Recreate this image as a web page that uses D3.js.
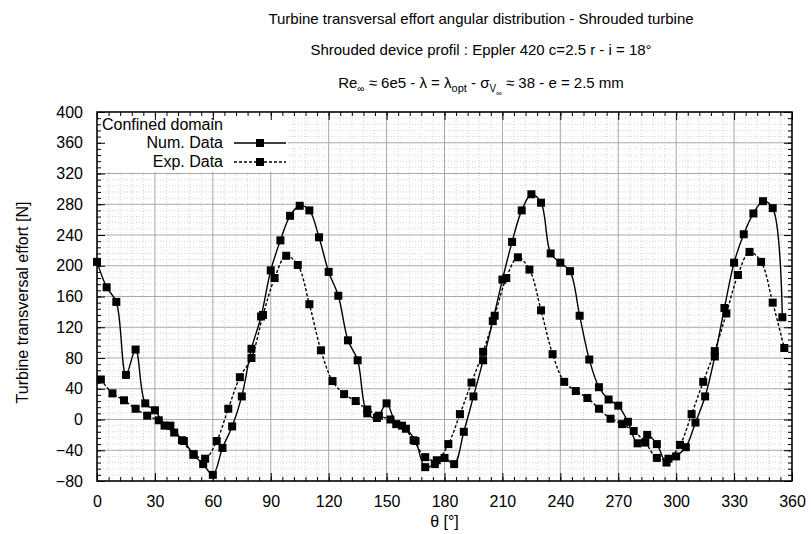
<!DOCTYPE html>
<html>
<head>
<meta charset="utf-8">
<script src="https://cdn.jsdelivr.net/npm/d3@7/dist/d3.min.js"></script>
<style>
  html, body { margin: 0; padding: 0; background: #fff; }
  svg { display: block; font-family: "Liberation Sans", Arial, Helvetica, sans-serif; }
</style>
</head>
<body>
<svg id="chart" width="811" height="534"></svg>
<script>
// ---- Data ----
const titleLine1 = "Turbine transversal effort angular distribution - Shrouded turbine";
const titleLine2 = "Shrouded device profil : Eppler 420 c=2.5 r - i = 18°";
const xLabel = "θ [°]";
const yLabel = "Turbine transversal effort [N]";
const legendTitle = "Confined domain";
const seriesNames = ["Num. Data", "Exp. Data"];

const xTicks = [0, 30, 60, 90, 120, 150, 180, 210, 240, 270, 300, 330, 360];
const yTicks = [-80, -40, 0, 40, 80, 120, 160, 200, 240, 280, 320, 360, 400];

const numTheta = [0,5,10,15,20,25,30,35,40,45,50,55,60,65,70,75,80,85,90,95,100,105,110,115,120,125,130,135,140,145,150,155,160,165,170,175,180,185,190,195,200,205,210,215,220,225,230,235,240,245,250,255,260,265,270,275,280,285,290,295,300,305,310,315,320,325,330,335,340,345,350,355];
const numValues = [205,172,153,58,91,21,12,-8,-17,-28,-46,-58,-72,-37,-9,30,92,134,194,233,265,278,272,237,192,161,103,77,8,2,21,-6,-12,-28,-62,-58,-50,-58,-16,30,77,128,182,231,272,293,282,216,204,193,135,78,42,26,18,-3,-31,-20,-32,-56,-48,-36,-4,30,82,145,204,241,268,284,275,133];

const expTheta = [2,8,14,20,26,32,38,44,50,56,62,68,74,80,86,92,98,104,110,116,122,128,134,140,146,152,158,164,170,176,182,188,194,200,206,212,218,224,230,236,242,248,254,260,266,272,278,284,290,296,302,308,314,320,326,332,338,344,350,356];
const expValues = [52,34,25,14,5,-1,-8,-27,-45,-51,-28,14,55,80,136,184,213,201,150,90,50,33,24,13,5,0,-8,-27,-49,-53,-32,7,48,88,135,184,211,195,142,85,49,37,28,14,1,-6,-15,-30,-50,-51,-33,7,49,89,138,188,218,205,152,93];

// ---- Layout ----
const W = 811, H = 534;
const m = { left: 97, right: 19, top: 112, bottom: 53 };
const pw = W - m.left - m.right, ph = H - m.top - m.bottom;

const svg = d3.select("#chart");
const x = d3.scaleLinear().domain([0, 360]).range([m.left, m.left + pw]);
const y = d3.scaleLinear().domain([-80, 400]).range([m.top + ph, m.top]);

const xMinor = d3.range(0, 361, 6);
const yMinor = d3.range(-80, 401, 8);

const g = svg.append("g");

// minor grid (dotted)
g.append("g").selectAll("line").data(xMinor.filter(v => v % 30 !== 0)).join("line")
  .attr("x1", d => x(d)).attr("x2", d => x(d)).attr("y1", m.top).attr("y2", m.top + ph)
  .attr("stroke", "#d4d4d4").attr("stroke-width", 1).attr("stroke-dasharray", "1,2");
g.append("g").selectAll("line").data(yMinor.filter(v => v % 40 !== 0)).join("line")
  .attr("y1", d => y(d)).attr("y2", d => y(d)).attr("x1", m.left).attr("x2", m.left + pw)
  .attr("stroke", "#d4d4d4").attr("stroke-width", 1).attr("stroke-dasharray", "1,2");
// major grid
g.append("g").selectAll("line").data(xTicks).join("line")
  .attr("x1", d => x(d)).attr("x2", d => x(d)).attr("y1", m.top).attr("y2", m.top + ph)
  .attr("stroke", "#a8a8a8").attr("stroke-width", 1);
g.append("g").selectAll("line").data(yTicks).join("line")
  .attr("y1", d => y(d)).attr("y2", d => y(d)).attr("x1", m.left).attr("x2", m.left + pw)
  .attr("stroke", "#a8a8a8").attr("stroke-width", 1);

// legend background box (covers grid)
g.append("rect").attr("x", m.left).attr("y", m.top).attr("width", 191).attr("height", 60).attr("fill", "#fff");

// axes: major labelled + minor ticks, mirrored
function styleAxis(sel) {
  sel.select(".domain").remove();
  sel.selectAll(".tick line").attr("stroke", "#000").attr("stroke-width", 1);
  sel.selectAll(".tick text").attr("fill", "#000").style("font-size", "16px").style("font-family", "'Liberation Sans', Arial, sans-serif");
}
const bottom = g.append("g").attr("transform", `translate(0,${m.top + ph})`)
  .call(d3.axisBottom(x).tickValues(xTicks).tickSize(-8).tickPadding(15).tickFormat(d3.format("d")));
styleAxis(bottom);
g.append("g").attr("transform", `translate(0,${m.top + ph})`)
  .call(d3.axisBottom(x).tickValues(xMinor).tickSize(-4).tickFormat(""))
  .call(styleAxis);
g.append("g").attr("transform", `translate(0,${m.top})`)
  .call(d3.axisTop(x).tickValues(xTicks).tickSize(-8).tickFormat("")).call(styleAxis);
g.append("g").attr("transform", `translate(0,${m.top})`)
  .call(d3.axisTop(x).tickValues(xMinor).tickSize(-4).tickFormat("")).call(styleAxis);

const left = g.append("g").attr("transform", `translate(${m.left},0)`)
  .call(d3.axisLeft(y).tickValues(yTicks).tickSize(-8).tickPadding(14).tickFormat(d3.format("d")));
styleAxis(left);
g.append("g").attr("transform", `translate(${m.left},0)`)
  .call(d3.axisLeft(y).tickValues(yMinor).tickSize(-4).tickFormat("")).call(styleAxis);
g.append("g").attr("transform", `translate(${m.left + pw},0)`)
  .call(d3.axisRight(y).tickValues(yTicks).tickSize(-8).tickFormat("")).call(styleAxis);
g.append("g").attr("transform", `translate(${m.left + pw},0)`)
  .call(d3.axisRight(y).tickValues(yMinor).tickSize(-4).tickFormat("")).call(styleAxis);

// frame
g.append("rect").attr("x", m.left).attr("y", m.top).attr("width", pw).attr("height", ph)
  .attr("fill", "none").attr("stroke", "#000").attr("stroke-width", 1.5);

// series
const numData = numTheta.map((t, i) => ({ t, v: numValues[i] }));
const expData = expTheta.map((t, i) => ({ t, v: expValues[i] }));
const line = d3.line().x(d => x(d.t)).y(d => y(d.v)).curve(d3.curveCatmullRom.alpha(0.5));

g.append("path").datum(numData).attr("d", line).attr("fill", "none")
  .attr("stroke", "#000").attr("stroke-width", 1.4);
g.append("path").datum(expData).attr("d", line).attr("fill", "none")
  .attr("stroke", "#000").attr("stroke-width", 1.4).attr("stroke-dasharray", "3,2");

const ms = 8;
g.append("g").selectAll("rect").data(numData).join("rect")
  .attr("x", d => x(d.t) - ms / 2).attr("y", d => y(d.v) - ms / 2)
  .attr("width", ms).attr("height", ms).attr("fill", "#000");
g.append("g").selectAll("rect").data(expData).join("rect")
  .attr("x", d => x(d.t) - ms / 2).attr("y", d => y(d.v) - ms / 2)
  .attr("width", ms).attr("height", ms).attr("fill", "#000");

// legend
const lg = g.append("g").style("font-size", "16px").attr("fill", "#000");
lg.append("text").attr("x", 102).attr("y", 130).text(legendTitle);
const legRows = [{ name: seriesNames[0], dash: null, yy: 143 }, { name: seriesNames[1], dash: "3,2", yy: 162 }];
legRows.forEach(r => {
  lg.append("text").attr("x", 223).attr("y", r.yy + 5).attr("text-anchor", "end").text(r.name);
  lg.append("line").attr("x1", 234).attr("x2", 286).attr("y1", r.yy).attr("y2", r.yy)
    .attr("stroke", "#000").attr("stroke-width", 1.4).attr("stroke-dasharray", r.dash);
  lg.append("rect").attr("x", 260 - ms / 2).attr("y", r.yy - ms / 2).attr("width", ms).attr("height", ms).attr("fill", "#000");
});

// titles
const tcx = 481;
svg.append("text").attr("x", tcx).attr("y", 24).attr("text-anchor", "middle").style("font-size", "15px").text(titleLine1);
svg.append("text").attr("x", tcx).attr("y", 55).attr("text-anchor", "middle").style("font-size", "15px").text(titleLine2);
const t3 = svg.append("text").attr("x", tcx).attr("y", 88).attr("text-anchor", "middle").style("font-size", "15px");
t3.append("tspan").text("Re");
t3.append("tspan").attr("dy", 4).style("font-size", "10px").text("∞");
t3.append("tspan").attr("dy", -4).text(" ≈ 6e5 - λ = λ");
t3.append("tspan").attr("dy", 4).style("font-size", "11px").text("opt");
t3.append("tspan").attr("dy", -4).text(" - σ");
t3.append("tspan").attr("dy", 4).style("font-size", "10px").text("V");
t3.append("tspan").attr("dy", 4).style("font-size", "8px").text("∞");
t3.append("tspan").attr("dy", -8).text(" ≈ 38 - e = 2.5 mm");

// axis titles
svg.append("text").attr("x", x(180)).attr("y", 527).attr("text-anchor", "middle").style("font-size", "16px").text(xLabel);
svg.append("text").attr("transform", `translate(28,${m.top + ph / 2 + 6}) rotate(-90)`)
  .attr("text-anchor", "middle").style("font-size", "16px").text(yLabel);
</script>
</body>
</html>
